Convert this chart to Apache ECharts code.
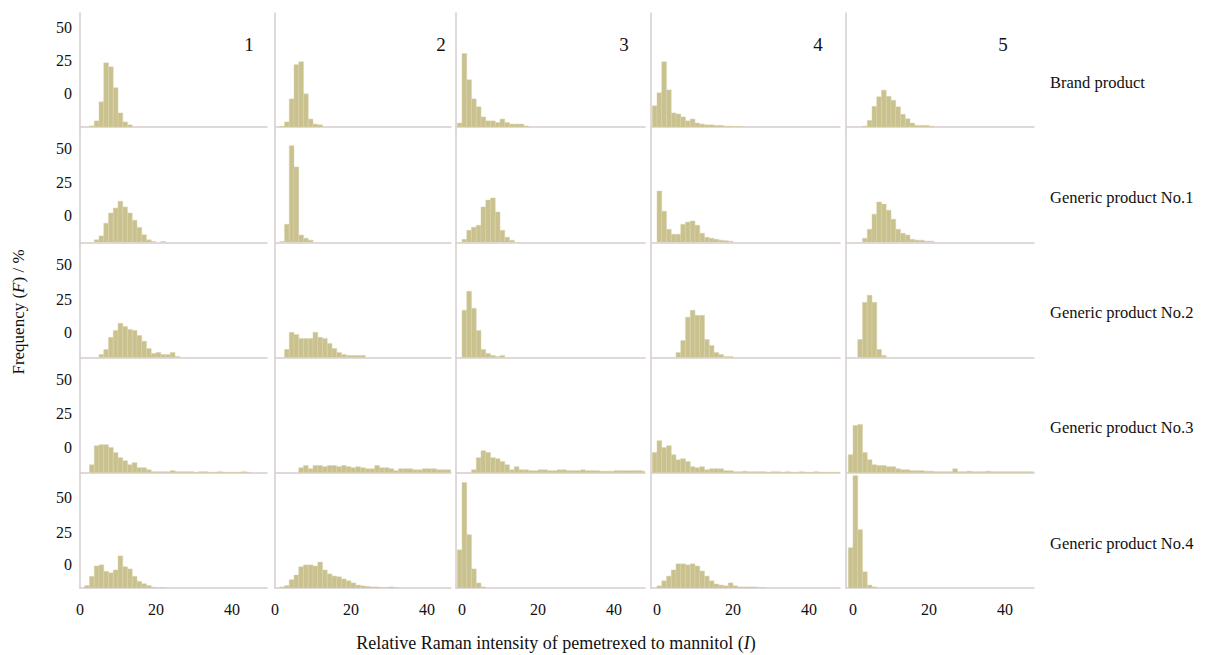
<!DOCTYPE html>
<html><head><meta charset="utf-8">
<script src="https://cdn.jsdelivr.net/npm/echarts@6/dist/echarts.min.js"></script>
<style>html,body{margin:0;padding:0;background:#fff}#c{width:1216px;height:655px}</style>
</head><body><div id="c"></div>
<script>
// ---------- data ----------
const products = ['Brand product', 'Generic product No.1', 'Generic product No.2', 'Generic product No.3', 'Generic product No.4'];
const lots = ['1', '2', '3', '4', '5'];
const xTickValues = [0, 20, 40];
const yTickLabels = ['0', '25', '50'];
const binWidth = 1.25;     // histogram bin width (I units)
const binStart = -1.25;    // left edge of the first bin

// frequency (%) per bin, one array per lot (columns 1..5)
const freqBrand = [
  [0,0,0,0.4,2.3,9.5,24.2,22.7,14.8,5.3,1.9,0.8],
  [0,0,0.3,1.9,10.6,23.5,24.6,12.5,3,1.1,0.8],
  [1.5,27.7,17.8,10.6,7.6,3.8,2.3,2.3,1.7,3,1.7,1.1,1.1,1.1,0.4],
  [8,12.9,24.6,14,5.3,4.9,3.8,2.3,3,1.5,1.1,0.8,0.8,0.6,0.6,0.3,0.3,0.2,0.2],
  [0,0,0,0.3,2.5,7.8,11.4,13.9,11.6,10.1,7.6,4.8,3.1,1.5,0.6,0.6,0.6,0.3]
];
const freqGeneric1 = [
  [0,0,0,0,0.9,2.4,7.2,11,12.9,15.5,13.3,11,8.3,5.6,2.8,0.9,0.3,0,0.3],
  [0,0,0.3,6.8,36.4,28.4,2.7,1.5,0.8],
  [0,1.1,4.5,5.7,6.4,13.3,15.9,16.7,11.4,4.5,1.9,0.8],
  [0,19.3,11.7,4.9,3,3,6.8,7.6,8,6.4,3.4,1.9,1.5,1.1,0.8,0.6,0.4],
  [0,0,0,1.5,4.9,10.6,15.2,14.4,12.1,8.7,4.9,3.4,2.7,1.1,0.8,0.8,0.4,0.4]
];
const freqGeneric2 = [
  [0,0,0,0,0,1.1,3,7.6,10.2,12.9,11.7,10.6,10.2,8.3,6.1,3.4,1.5,1.9,1.1,1.1,1.9,0.4],
  [0,0,0,3,9.5,8.7,7.2,7.2,7.2,9.5,7.6,7.2,5.3,3.4,1.9,1.1,0.8,0.8,0.8,0.8],
  [0,17.8,25,18.6,10.2,3,1.5,0.8,0.4,0.8],
  [0,0,0,0,0,1.9,6.4,15.2,17.8,15.9,15.9,6.8,4.5,1.9,1.1,0.4,0.4],
  [0,0,6.8,20.8,23.5,20.8,3,0.8]
];
const freqGeneric3 = [
  [0,0,0,3,10.2,10.6,10.6,9.5,7.6,5.7,4.5,3,3.8,1.9,1.9,1.1,0.4,0.4,0.4,0.4,0.8,0.4,0.4,0.4,0.4,0.2,0.4,0.4,0.2,0.2,0.4,0.2,0.2,0.2,0.2,0.4,0.2],
  [0,0,0,0,0,0,1.9,2.7,1.5,2.7,2.7,2.3,2.7,2.7,2.3,2.7,2.3,1.9,2.3,1.9,1.5,1.5,2.7,1.9,1.9,1.5,0.8,1.5,1.5,1.5,1.1,1.1,1.5,1.5,1.5,1.1,1.1,1.1],
  [0,0,0,1.1,5.7,8.3,7.6,5.7,5.3,4.2,3,1.1,2.3,1.1,1.1,0.8,0.8,1.1,1.1,0.8,0.8,1.1,1.1,0.8,0.8,0.8,1.1,0.8,0.8,0.8,0.6,0.6,0.6,0.8,0.8,0.8,0.8,0.8,0.8,0.6],
  [7.6,12.1,9.5,10.2,6.8,4.9,5.3,4.2,2.3,1.9,2.3,1.1,1.5,1.5,1.5,0.8,0.8,0.4,0.4,0.6,0.4,0.4,0.4,0.4,0.2,0.4,0.4,0.2,0.4,0.2,0.2,0.4,0.2,0.2,0.4,0.2,0.2,0.2,0.2,0.2],
  [6.8,17.8,18.2,7.6,4.9,3,2.7,2.7,2.3,2.3,1.5,1.1,1.1,0.8,0.8,0.8,0.6,0.6,0.4,0.4,0.4,0.4,1.5,0.4,0.4,0.6,0.4,0.4,0.4,0.6,0.4,0.4,0.4,0.4,0.4,0.4,0.4,0.4,0.4]
];
const freqGeneric4 = [
  [0,0,0.9,4.4,8.3,8.7,6.3,5.7,6.8,12.1,8,7.2,4.4,2.5,1.6,0.9,0.3,0.1,0.1],
  [0,0,0.4,0.9,3.1,4.9,8,8.7,8.7,8.3,9.8,6.8,5.3,4.5,4.2,3.4,2.7,1.9,1.1,0.8,0.6,0.4,0.4,0.2,0.2,0.4,0.2],
  [14.4,39.8,20.1,7.2,1.9,0.4],
  [0,0.8,2.7,4.5,6.8,9.1,9.1,8.7,9.1,8.3,6.4,4.5,2.7,1.5,1.1,0.8,1.9,0.8,0.4,0.4,0.4,0.4,0.2,0.2],
  [15.2,42.4,22,6.1,1.1,0.4]
];
const freqRows = [freqBrand, freqGeneric1, freqGeneric2, freqGeneric3, freqGeneric4];

// ---------- layout / style ----------
const colLeft = [80, 275, 456, 651, 846];
const colWidth = [187, 176, 189, 189, 188];
const colMin = [0, 0, -1.58, -1.58, -1.84];
const pxPerUnit = 3.8;
const rowTop0 = 13, rowStep = 115.25, rowHeight = 114;
const yMax = 43;
const yLabelAt = [[12.8,24.9,37.7],[10.2,22.6,35.5],[9.6,22.0,34.9],[9.6,22.2,35.1],[8.7,21.1,34.0]];
const barFill = '#c9c18e', barEdge = '#d9d3ad', axisColor = '#d6cdcd';
const serif = '"Liberation Serif", "DejaVu Serif", serif';
const textColor = '#111';
const lotLabelX = [249, 441, 624, 818, 1003];

const chart = echarts.init(document.getElementById('c'), null, {renderer: 'svg'});

function renderItem(params, api) {
  const p0 = api.coord([api.value(0), 0]);
  const p1 = api.coord([api.value(1), api.value(2)]);
  const cs = params.coordSys;
  const r = echarts.graphic.clipRectByRect(
    {x: p0[0], y: p1[1], width: p1[0] - p0[0], height: p0[1] - p1[1]},
    {x: cs.x, y: cs.y, width: cs.width, height: cs.height});
  if (!r) return null;
  return {type: 'rect', shape: r, style: {fill: barFill, stroke: barEdge, lineWidth: 0.5}};
}

const grids = [], xAxes = [], yAxes = [], series = [], graphics = [];
for (let r = 0; r < 5; r++) {
  for (let c = 0; c < 5; c++) {
    const idx = r * 5 + c;
    const top = rowTop0 + r * rowStep;
    grids.push({left: colLeft[c], top: top, width: colWidth[c], height: rowHeight});
    xAxes.push({
      gridIndex: idx, type: 'value', min: colMin[c], max: colMin[c] + colWidth[c] / pxPerUnit,
      axisLine: {show: true, onZero: false, lineStyle: {color: axisColor, width: 1.5}},
      axisTick: {show: false}, splitLine: {show: false},
      axisLabel: {show: r === 4, customValues: xTickValues, margin: 13,
        fontFamily: serif, fontSize: 16, color: textColor}
    });
    const labAt = yLabelAt[r];
    yAxes.push({
      gridIndex: idx, type: 'value', min: 0, max: yMax,
      axisLine: {show: true, onZero: false, lineStyle: {color: axisColor, width: 1.5}},
      axisTick: {show: false}, splitLine: {show: false},
      axisLabel: {show: c === 0, customValues: labAt, margin: 8,
        fontFamily: serif, fontSize: 16, color: textColor,
        formatter: v => {
          let best = 0;
          labAt.forEach((p, i) => { if (Math.abs(p - v) < Math.abs(labAt[best] - v)) best = i; });
          return yTickLabels[best];
        }}
    });
    const heights = freqRows[r][c];
    const data = [];
    heights.forEach((h, i) => {
      if (h > 0) data.push([binStart + i * binWidth, binStart + (i + 1) * binWidth, h]);
    });
    series.push({
      type: 'custom', xAxisIndex: idx, yAxisIndex: idx, renderItem: renderItem,
      encode: {x: [0, 1], y: 2}, data: data, silent: true, clip: true
    });
  }
  graphics.push({type: 'text', x: 1050, y: rowTop0 + r * rowStep + rowHeight - 45,
    style: {text: products[r], font: '16.5px ' + serif, fill: textColor, verticalAlign: 'middle'}});
}
lots.forEach((t, c) => {
  graphics.push({type: 'text', x: lotLabelX[c], y: 44, style: {text: t, font: '19px ' + serif, fill: textColor, align: 'center', verticalAlign: 'middle'}});
});
graphics.push({type: 'text', x: 556, y: 643,
  style: {text: '{n|Relative Raman intensity of pemetrexed to mannitol (}{i|I}{n|)}', align: 'center', verticalAlign: 'middle',
    rich: {n: {font: '18px ' + serif, fill: textColor}, i: {font: 'italic 18px ' + serif, fill: textColor}}}});
graphics.push({type: 'text', x: 18, y: 312, rotation: Math.PI / 2,
  style: {text: '{n|Frequency (}{i|F}{n|) / %}', align: 'center', verticalAlign: 'middle',
    rich: {n: {font: '17px ' + serif, fill: textColor}, i: {font: 'italic 17px ' + serif, fill: textColor}}}});

chart.setOption({
  backgroundColor: '#fff',
  animation: false,
  grid: grids, xAxis: xAxes, yAxis: yAxes, series: series,
  graphic: graphics
});
</script></body></html>
